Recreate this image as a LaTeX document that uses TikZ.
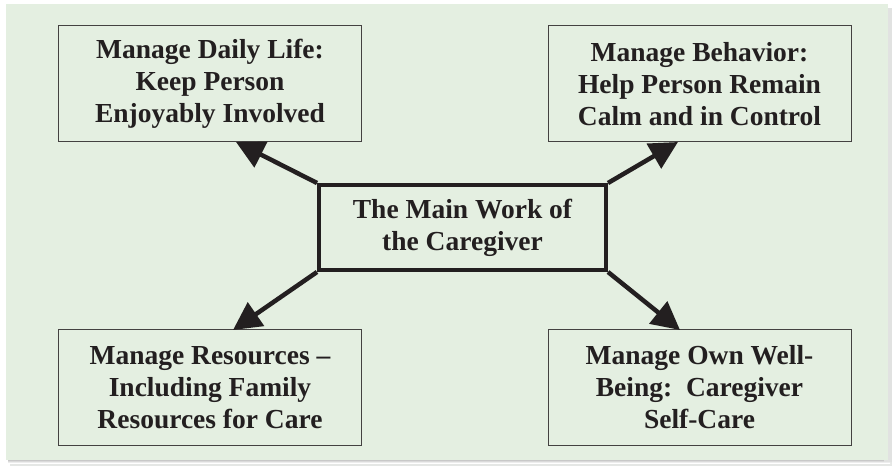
\documentclass[tikz,border=0pt]{standalone}
\usepackage{fontspec}
\setmainfont{Liberation Serif}
\usetikzlibrary{arrows.meta}
\definecolor{panel}{HTML}{E4EFE1}
\definecolor{ink}{HTML}{231F20}
\definecolor{shade}{HTML}{D4D6D4}
\tikzset{
  x=1pt, y=-1pt,
  outbox/.style={draw=ink!85, line width=1pt, fill=panel, minimum width=303pt, minimum height=116pt,
    align=center, font=\fontsize{27.5}{32}\selectfont\bfseries, text=ink, inner sep=0pt},
  centerbox/.style={draw=ink, line width=4pt, fill=panel, minimum width=287pt, minimum height=85pt,
    align=center, font=\fontsize{27.5}{32}\selectfont\bfseries, text=ink, inner sep=0pt},
  conn/.style={draw=ink, line width=4.5pt, -{Triangle[length=28pt,width=28pt]}, shorten >=0pt}
}
\begin{document}
\begin{tikzpicture}
\useasboundingbox (0,0) rectangle (894,468);
\fill[white] (0,0) rectangle (894,468);
\fill[shade!60] (10,458) rectangle (892,466);
\fill[shade] (8,456) rectangle (890,463);
\fill[shade!70] (884,8) rectangle (892,462);
\fill[panel] (6,4) rectangle (888,460);

\node[outbox] (tl) at (210,84) {Manage Daily Life:\\Keep Person\\Enjoyably Involved};
\node[outbox] (tr) at (699.5,84) {Manage Behavior:\\Help Person Remain\\Calm and in Control};
\node[outbox] (bl) at (210,387.5) {Manage Resources –\\Including Family\\Resources for Care};
\node[outbox] (br) at (699.5,387.5) {Manage Own Well-\\Being:\ \ Caregiver\\Self-Care};
\node[centerbox] (c) at (462.5,227.5) {The Main Work of\\the Caregiver};

\coordinate (ttl) at (236,142);
\coordinate (ttr) at (678,142);
\coordinate (tbl) at (233,330);
\coordinate (tbr) at (680,330);
\draw[conn] (c.north west) -- (ttl);
\draw[conn] (c.north east) -- (ttr);
\draw[conn] (c.south west) -- (tbl);
\draw[conn] (c.south east) -- (tbr);
\end{tikzpicture}
\end{document}
